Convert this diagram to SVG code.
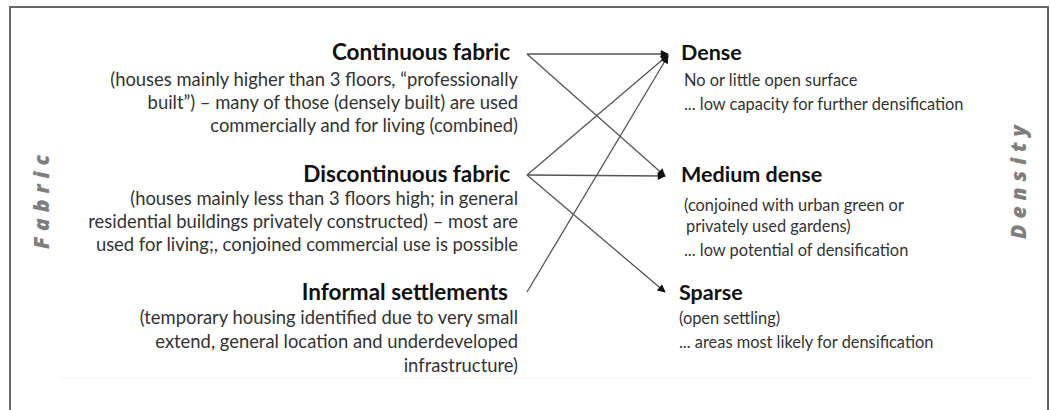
<svg xmlns="http://www.w3.org/2000/svg" width="1050" height="410" viewBox="0 0 1050 410">
<defs>
<marker id="ah" viewBox="0 0 10 10" refX="9" refY="5" markerWidth="9" markerHeight="8" markerUnits="userSpaceOnUse" orient="auto">
<path d="M0,0 L10,5 L0,10 Z" fill="#111"/>
</marker>
<style>
.t{font-family:Lato,"Open Sans","Liberation Sans",sans-serif;font-weight:bold;fill:#111}
.tl{font-size:22.5px;text-anchor:end}
.tr{font-size:21.5px}
.b{font-family:Lato,"Open Sans","Liberation Sans",sans-serif;fill:#333}
.bl{font-size:18.4px;text-anchor:end}
.br{font-size:16.4px}
.side{font-family:"Open Sans","Liberation Sans",sans-serif;font-weight:800;font-style:italic;font-size:21px;fill:#7e7e7e;letter-spacing:6px;text-anchor:middle}
.c{stroke:#555;stroke-width:1.3;fill:none;marker-end:url(#ah)}
</style>
</defs>
<rect width="1050" height="410" fill="#fff"/>
<path d="M10,410 V7 H1048 V410" fill="none" stroke="#666" stroke-width="2"/>
<line x1="60" y1="378" x2="1030" y2="378" stroke="#f3f3f3" stroke-width="1"/>
<g id="label-fabric"><text class="side" transform="translate(49,199) rotate(-90)">Fabric</text></g>
<g id="label-density"><text class="side" transform="translate(1026,179) rotate(-90)">Density</text></g>
<g id="node-continuous">
<text class="t tl" x="510" y="60">Continuous fabric</text>
<text class="b bl" x="518" y="86">(houses mainly higher than 3 floors, “professionally</text>
<text class="b bl" x="518" y="109">built”) – many of those (densely built) are used</text>
<text class="b bl" x="518" y="132">commercially and for living (combined)</text>
</g>
<g id="node-discontinuous">
<text class="t tl" x="510" y="182">Discontinuous fabric</text>
<text class="b bl" x="518" y="205">(houses mainly less than 3 floors high; in general</text>
<text class="b bl" x="518" y="228">residential buildings privately constructed) – most are</text>
<text class="b bl" x="518" y="251">used for living;, conjoined commercial use is possible</text>
</g>
<g id="node-informal">
<text class="t tl" x="508" y="300">Informal settlements</text>
<text class="b bl" x="518" y="324">(temporary housing identified due to very small</text>
<text class="b bl" x="518" y="348">extend, general location and underdeveloped</text>
<text class="b bl" x="518" y="372">infrastructure)</text>
</g>
<g id="node-dense">
<text class="t tr" x="681" y="60">Dense</text>
<text class="b br" x="684" y="86">No or little open surface</text>
<text class="b br" x="684" y="110">... low capacity for further densification</text>
</g>
<g id="node-medium">
<text class="t tr" x="681" y="182">Medium dense</text>
<text class="b br" x="684" y="211">(conjoined with urban green or</text>
<text class="b br" x="686" y="232">privately used gardens)</text>
<text class="b br" x="684" y="256">... low potential of densification</text>
</g>
<g id="node-sparse">
<text class="t tr" x="679" y="300">Sparse</text>
<text class="b br" x="679" y="324">(open settling)</text>
<text class="b br" x="679" y="348">... areas most likely for densification</text>
</g>
<g id="connectors">
<path class="c" d="M527,54 L668,54"/>
<path class="c" d="M527,54 L665,176"/>
<path class="c" d="M527,175 L668,55"/>
<path class="c" d="M527,175 L665,176"/>
<path class="c" d="M527,175 L665,292"/>
<path class="c" d="M527,292 L668,56"/>
</g>
</svg>
